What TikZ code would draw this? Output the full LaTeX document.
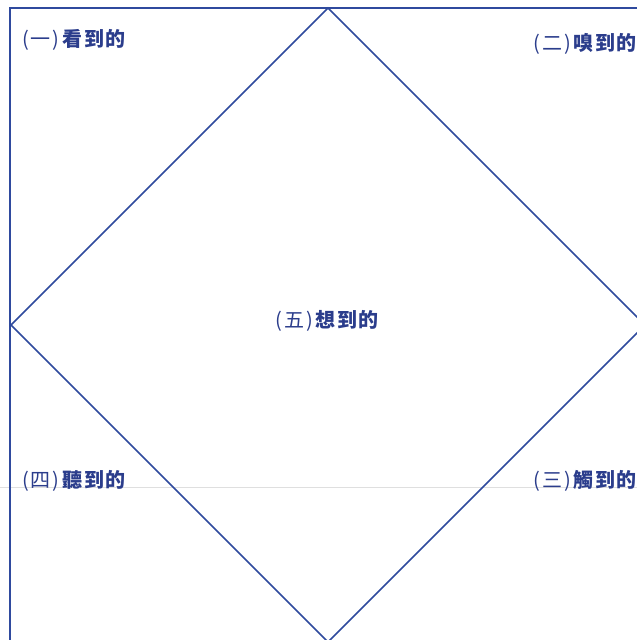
\documentclass[tikz,border=0pt]{standalone}
\usepackage{fontspec}
\newfontfamily\cjk{Noto Sans CJK TC}
\definecolor{lineblue}{HTML}{2F4A9E}
\definecolor{textblue}{HTML}{2B3D8C}
\newcommand{\lab}[2]{{\mdseries(\kern2pt#1\kern2pt)}\kern3pt#2}
\begin{document}
\begin{tikzpicture}[x=1pt,y=-1pt,
  frameline/.style={draw=lineblue,line width=1.8pt},
  diamondline/.style={draw=lineblue,line width=1.6pt,line join=miter},
  lbl/.style={text=textblue,font=\cjk\bfseries\fontsize{20}{24}\selectfont,inner sep=0pt}]
\useasboundingbox (0,0) rectangle (637,640);
\fill[white] (0,0) rectangle (637,640);
\begin{scope}
\clip (0,0) rectangle (637,640);
\draw[gray!25,line width=0.8pt] (0,487.5) -- (637,487.5);
\coordinate (ftl) at (10,8);
\coordinate (fbr) at (648,650);
\draw[frameline] (ftl) rectangle (fbr);
\coordinate (dt) at (328,8);
\coordinate (dl) at (11,325);
\coordinate (db) at (328,642);
\coordinate (dr) at (645,325);
\draw[diamondline] (dt) -- (dr) -- (db) -- (dl) -- cycle;
\end{scope}
\node[lbl,anchor=west] (see) at (22,40) {\lab{一}{看\kern1.5pt 到\kern1.5pt 的}};
\node[lbl,anchor=east] (smell) at (637,44) {\lab{二}{嗅\kern1.5pt 到\kern1.5pt 的}};
\node[lbl] (think) at (327,321) {\lab{五}{想\kern1.5pt 到\kern1.5pt 的}};
\node[lbl,anchor=west] (hear) at (22,481) {\lab{四}{聽\kern1.5pt 到\kern1.5pt 的}};
\node[lbl,anchor=east] (touch) at (637,481) {\lab{三}{觸\kern1.5pt 到\kern1.5pt 的}};
\end{tikzpicture}
\end{document}
